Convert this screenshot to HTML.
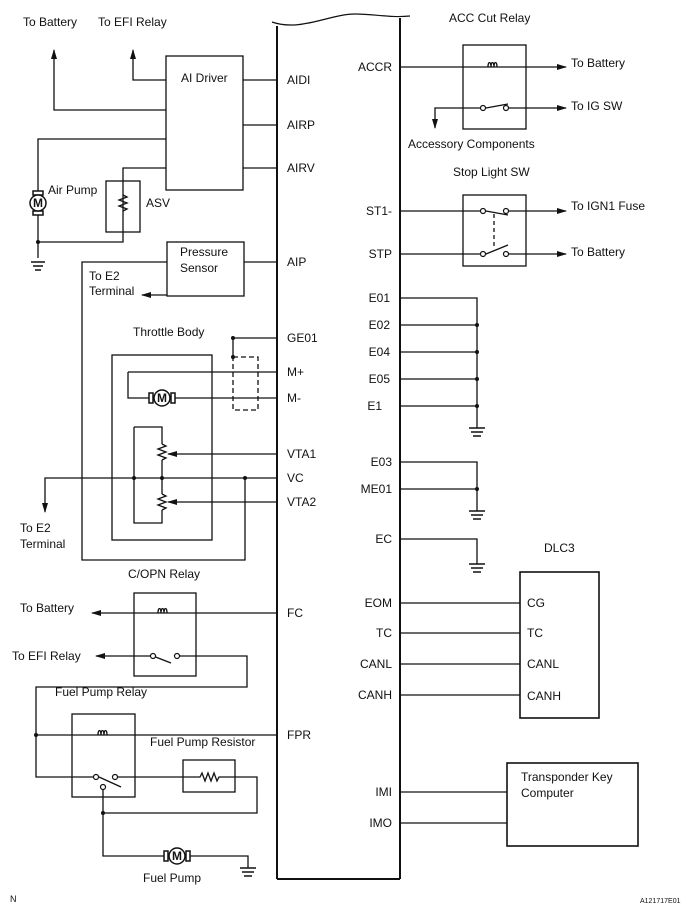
<!DOCTYPE html>
<html><head><meta charset="utf-8"><style>
body{margin:0;background:#fff}
svg{display:block}
text{font-family:"Liberation Sans",Arial,sans-serif;font-size:12px;fill:#111}
</style></head><body>
<svg width="687" height="912" viewBox="0 0 687 912" xmlns="http://www.w3.org/2000/svg">
<defs>
<marker id="a" markerWidth="10" markerHeight="8" refX="9" refY="4" orient="auto" markerUnits="userSpaceOnUse"><path d="M0,1 L10,4 L0,7 Z" fill="#111"/></marker>
</defs>
<g stroke="#111" stroke-width="1.3" fill="none">
<!-- ECM -->
<path d="M277,879 L277,26 M400,18 L400,879 M277,879 L400,879" stroke-width="2"/>
<path d="M272,22 C300,32 330,14 355,14 C375,14 390,18 410,16" stroke-width="1.2"/>

<!-- AI Driver -->
<rect x="166" y="56" width="77" height="134"/>
<path d="M243,80H277 M243,125H277 M243,168H277"/>
<path d="M166,80H133V50" marker-end="url(#a)"/>
<path d="M166,110H54V50" marker-end="url(#a)"/>
<path d="M166,139H38V194 M38,212V242 M38,242H123V226 M123,232V168H166 M38,242V258"/>
<rect x="106" y="181" width="34" height="51"/>
<path d="M123,195 l4,2 -8,3 8,3 -8,3 8,3 -4,2"/>
<!-- pressure sensor -->
<rect x="167" y="242" width="77" height="54"/>
<path d="M244,262H277 M167,262H82V560H245V478"/>
<path d="M167,295H142" marker-end="url(#a)"/>
<!-- throttle body -->
<rect x="112" y="355" width="100" height="185"/>
<rect x="233" y="357" width="25" height="53" stroke-dasharray="5,3"/>
<path d="M233,338H277 M233,338V357 M128,372H277 M128,372V398H154 M170,398H277"/>
<path d="M134,427H162V444 M162,460V494 M162,510V523H134V427"/>
<path d="M162,444 l4,2 -8,3 8,3 -8,3 8,3 -4,2"/>
<path d="M162,494 l4,2 -8,3 8,3 -8,3 8,3 -4,2"/>
<path d="M277,454H168" marker-end="url(#a)"/>
<path d="M277,502H168" marker-end="url(#a)"/>
<path d="M277,478H45V512" marker-end="url(#a)"/>
<!-- C/OPN relay -->
<rect x="134" y="593" width="62" height="83"/>
<path d="M277,613H92" marker-end="url(#a)"/>
<path d="M150,656H96" marker-end="url(#a)"/>
<path d="M153,656l18,7 M180,656H247V687H36V777H93"/>
<!-- fuel pump relay -->
<rect x="72" y="714" width="63" height="83"/>
<path d="M36,735H277"/>
<path d="M99,777l22,10 M118,777H183 M235,777H257V813H103 M103,790V856H168 M186,856H248V868"/>
<rect x="183" y="760" width="52" height="32"/>
<path d="M183,777H200l2,-4 3,8 3,-8 3,8 3,-8 3,8 2,-4H235"/>
<!-- right side -->
<rect x="463" y="45" width="63" height="84"/>
<path d="M400,67H566" marker-end="url(#a)"/>
<path d="M480,108H435V128" marker-end="url(#a)"/>
<path d="M486,108l22,-4 M509,108H566" marker-end="url(#a)"/>
<rect x="463" y="195" width="63" height="71"/>
<path d="M400,211H480 M486,211l22,4 M509,211H566" marker-end="url(#a)"/>
<path d="M400,254H480 M486,254l22,-9 M509,254H566" marker-end="url(#a)"/>
<path d="M494,214V248" stroke-dasharray="4,3"/>
<path d="M400,298H477V428 M400,325H477 M400,352H477 M400,379H477 M400,406H477"/>
<path d="M400,462H477V511 M400,489H477"/>
<path d="M400,539H477V564"/>
<rect x="520" y="572" width="79" height="146" stroke-width="1.6"/>
<path d="M400,603H520 M400,633H520 M400,664H520 M400,695H520"/>
<rect x="507" y="763" width="131" height="83" stroke-width="1.6"/>
<path d="M400,792H507 M400,823H507"/>
</g>
<g fill="none" stroke="#111" stroke-width="1.3">
<!-- coils -->
<path d="M488,67c0,-6 3,-6 3,0c0,-6 3,-6 3,0c0,-6 3,-6 3,0"/>
<path d="M158,613c0,-6 3,-6 3,0c0,-6 3,-6 3,0c0,-6 3,-6 3,0"/>
<path d="M98,735c0,-6 3,-6 3,0c0,-6 3,-6 3,0c0,-6 3,-6 3,0"/>
</g>
<g fill="#fff" stroke="#111" stroke-width="1.2">
<circle cx="483" cy="108" r="2.5"/><circle cx="506" cy="108" r="2.5"/>
<circle cx="483" cy="211" r="2.5"/><circle cx="506" cy="211" r="2.5"/>
<circle cx="483" cy="254" r="2.5"/><circle cx="506" cy="254" r="2.5"/>
<circle cx="153" cy="656" r="2.5"/><circle cx="177" cy="656" r="2.5"/>
<circle cx="96" cy="777" r="2.5"/><circle cx="115" cy="777" r="2.5"/><circle cx="103" cy="787" r="2.5"/>
</g>
<g fill="#111">
<circle cx="38" cy="242" r="2"/><circle cx="233" cy="338" r="2"/><circle cx="233" cy="357" r="2"/>
<circle cx="134" cy="478" r="2"/><circle cx="162" cy="478" r="2"/><circle cx="245" cy="478" r="2"/>
<circle cx="36" cy="735" r="2"/><circle cx="103" cy="813" r="2"/>
<circle cx="477" cy="325" r="2"/><circle cx="477" cy="352" r="2"/><circle cx="477" cy="379" r="2"/><circle cx="477" cy="406" r="2"/><circle cx="477" cy="489" r="2"/>
</g>
<!-- grounds -->
<g stroke="#111" stroke-width="1.4">
<path d="M31,262h14M33,266h10M35,270h6"/>
<path d="M469,428h16M471,432h12M473,436h8"/>
<path d="M469,511h16M471,515h12M473,519h8"/>
<path d="M469,564h16M471,568h12M473,572h8"/>
<path d="M240,868h16M242,872h12M244,876h8"/>
</g>
<!-- motors -->
<g stroke="#111" stroke-width="1.5" fill="#fff">
<rect x="33" y="191" width="10" height="4"/><rect x="33" y="211" width="10" height="4"/><circle cx="38" cy="203" r="8"/>
<rect x="149" y="393" width="4" height="10"/><rect x="171" y="393" width="4" height="10"/><circle cx="162" cy="398" r="8"/>
<rect x="164" y="851" width="4" height="10"/><rect x="186" y="851" width="4" height="10"/><circle cx="177" cy="856" r="8"/>
</g>
<g style="font-weight:bold;font-size:11px" text-anchor="middle">
<text x="38" y="207">M</text><text x="162" y="402">M</text><text x="177" y="860">M</text>
</g>
<!-- labels -->
<text x="23" y="26">To Battery</text><text x="98" y="26">To EFI Relay</text>
<text x="181" y="82">AI Driver</text>
<text x="48" y="194">Air Pump</text><text x="146" y="207">ASV</text>
<text x="180" y="256">Pressure</text><text x="180" y="272">Sensor</text>
<text x="89" y="280">To E2</text><text x="89" y="295">Terminal</text>
<text x="133" y="336">Throttle Body</text>
<text x="20" y="532">To E2</text><text x="20" y="548">Terminal</text>
<text x="128" y="578">C/OPN Relay</text>
<text x="20" y="612">To Battery</text><text x="12" y="660">To EFI Relay</text>
<text x="55" y="696">Fuel Pump Relay</text>
<text x="150" y="746">Fuel Pump Resistor</text>
<text x="143" y="882">Fuel Pump</text>
<text x="10" y="902" style="font-size:9px">N</text>
<g>
<text x="287" y="84">AIDI</text><text x="287" y="129">AIRP</text><text x="287" y="172">AIRV</text>
<text x="287" y="266">AIP</text><text x="287" y="342">GE01</text><text x="287" y="376">M+</text>
<text x="287" y="402">M-</text><text x="287" y="458">VTA1</text><text x="287" y="482">VC</text>
<text x="287" y="506">VTA2</text><text x="287" y="617">FC</text><text x="287" y="739">FPR</text>
</g>
<g text-anchor="end">
<text x="392" y="71">ACCR</text><text x="392" y="215">ST1-</text><text x="392" y="258">STP</text>
<text x="390" y="302">E01</text><text x="390" y="329">E02</text><text x="390" y="356">E04</text>
<text x="390" y="383">E05</text><text x="382" y="410">E1</text>
<text x="392" y="466">E03</text><text x="392" y="493">ME01</text><text x="392" y="543">EC</text>
<text x="392" y="607">EOM</text><text x="392" y="637">TC</text><text x="392" y="668">CANL</text>
<text x="392" y="699">CANH</text><text x="392" y="796">IMI</text><text x="392" y="827">IMO</text>
</g>
<text x="449" y="22">ACC Cut Relay</text>
<text x="571" y="67">To Battery</text><text x="571" y="110">To IG SW</text>
<text x="408" y="148">Accessory Components</text>
<text x="453" y="176">Stop Light SW</text>
<text x="571" y="210">To IGN1 Fuse</text><text x="571" y="256">To Battery</text>
<text x="544" y="552">DLC3</text>
<text x="527" y="607">CG</text><text x="527" y="637">TC</text><text x="527" y="668">CANL</text><text x="527" y="700">CANH</text>
<text x="521" y="781">Transponder Key</text><text x="521" y="797">Computer</text>
<text x="640" y="903" style="font-size:7px">A121717E01</text>
</svg>
</body></html>
